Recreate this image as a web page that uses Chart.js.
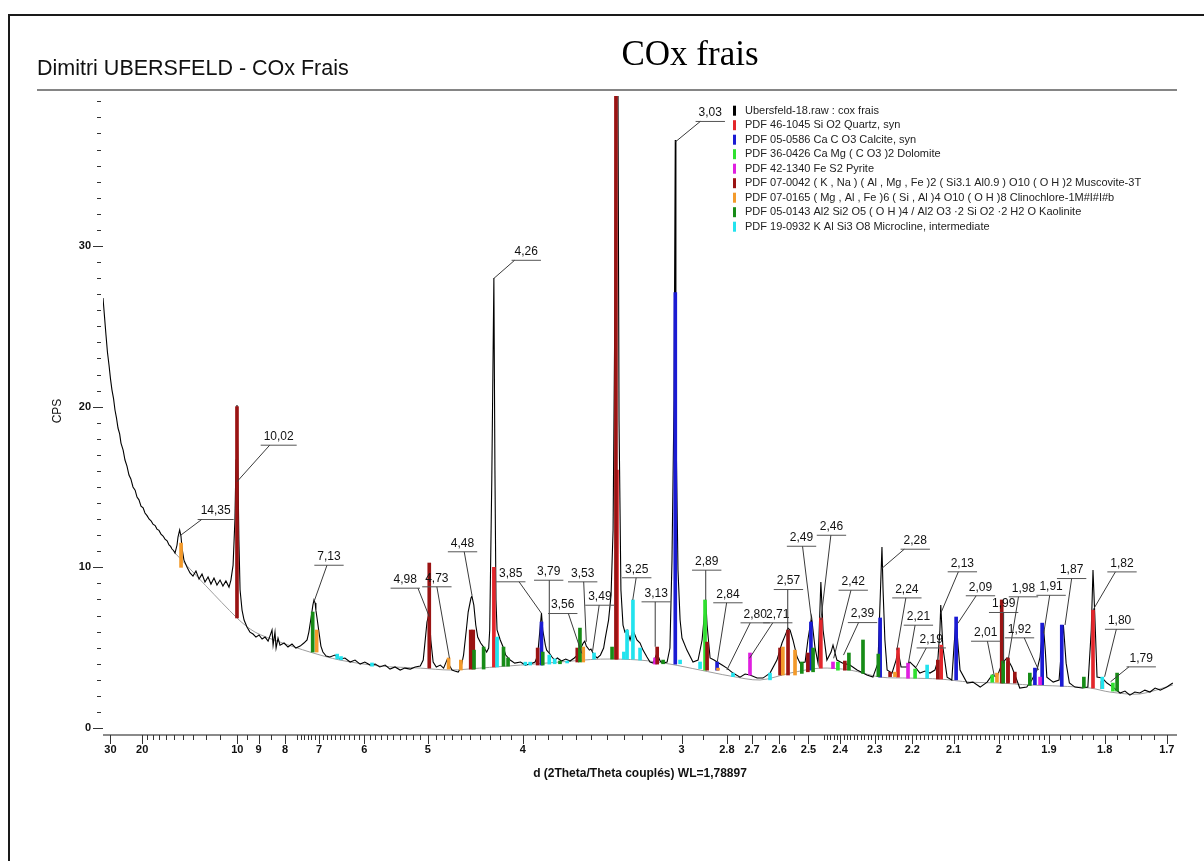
<!DOCTYPE html>
<html>
<head>
<meta charset="utf-8">
<title>COx frais</title>
<script src="https://cdn.jsdelivr.net/npm/chart.js@4.4.1/dist/chart.umd.min.js"></script>
<style>
  body { margin: 0; background: #fff; }
  #wrap { position: relative; width: 1204px; height: 861px; overflow: hidden; background: #fff; }
  #xrd { position: absolute; left: 0; top: 0; }
  #frame { position: absolute; left: 8px; top: 14px; right: -4px; bottom: -4px; border-top: 2px solid #1a1a1a; border-left: 2px solid #1a1a1a; }
  #author { position: absolute; left: 37px; top: 56px; font: 21.5px "Liberation Sans", Arial, sans-serif; color: #111; white-space: nowrap; }
  #title { position: absolute; left: 590px; width: 200px; top: 34px; text-align: center; font: 35px "Liberation Serif", "Times New Roman", serif; color: #000; }
  #rule { position: absolute; left: 37px; top: 89px; width: 1140px; height: 2px; background: #858585; }
  #ytitle { position: absolute; left: 37px; top: 404px; width: 40px; text-align: center; transform: rotate(-90deg); font: 12px "Liberation Sans", Arial, sans-serif; color: #111; }
  #xtitle { position: absolute; left: 440px; width: 400px; top: 766px; text-align: center; font: bold 12px "Liberation Sans", Arial, sans-serif; color: #111; }
</style>
</head>
<body>
<div id="wrap">
  <canvas id="xrd" width="1204" height="861"></canvas>
  <div id="frame"></div>
  <div id="author">Dimitri UBERSFELD - COx Frais</div>
  <div id="title">COx frais</div>
  <div id="rule"></div>
  <div id="ytitle">CPS</div>
  <div id="xtitle">d (2Theta/Theta couplés) WL=1,78897</div>
</div>
<script>
// ── scan : d spacing (Å) and counts ─────────────────────────
const specD = [
  33.99, 33.1, 32.27, 31.5, 30.70, 29.95, 29.29, 28.6, 28.00, 27.4, 26.81, 26.2, 25.73, 25.0, 24.41,
  23.8, 23.22, 22.7, 22.14, 21.6, 21.15, 20.7, 20.25, 19.8, 19.43, 19.0, 18.66, 18.3, 17.96, 17.6,
  17.31, 17.0, 16.70, 16.4, 16.13, 15.85, 15.60, 15.4, 15.23, 15.05, 14.87, 14.64, 14.53, 14.35, 14.21,
  14.10, 13.90, 13.60, 13.31, 13.04, 12.78, 12.52, 12.28, 12.05, 11.82, 11.61, 11.40, 11.20, 11.00,
  10.82, 10.64, 10.46, 10.35, 10.23, 10.13, 10.07, 10.02, 9.97, 9.92, 9.86, 9.76, 9.66, 9.52, 9.38,
  9.24, 9.11, 8.98, 8.85, 8.73, 8.61, 8.54, 8.46, 8.42, 8.35, 8.31, 8.24, 8.17, 8.03, 7.90, 7.77,
  7.65, 7.52, 7.41, 7.32, 7.27, 7.21, 7.16, 7.13, 7.10, 7.08, 7.05, 7.00, 6.95, 6.90, 6.82, 6.73,
  6.61, 6.50, 6.39, 6.28, 6.18, 6.08, 5.99, 5.89, 5.80, 5.72, 5.63, 5.55, 5.47, 5.39, 5.32, 5.24,
  5.17, 5.10, 5.06, 5.04, 5.01, 4.98, 4.96, 4.93, 4.89, 4.84, 4.80, 4.76, 4.74, 4.70, 4.67, 4.63,
  4.60, 4.57, 4.54, 4.52, 4.49, 4.48, 4.46, 4.44, 4.42, 4.39, 4.36, 4.33, 4.31, 4.30, 4.28, 4.26,
  4.25, 4.24, 4.23, 4.20, 4.17, 4.15, 4.11, 4.07, 4.02, 3.98, 3.94, 3.90, 3.88, 3.85, 3.84, 3.82,
  3.81, 3.79, 3.77, 3.75, 3.73, 3.70, 3.67, 3.64, 3.61, 3.59, 3.58, 3.56, 3.55, 3.54, 3.53, 3.51,
  3.50, 3.49, 3.48, 3.46, 3.44, 3.42, 3.41, 3.39, 3.375, 3.363, 3.352, 3.34, 3.328, 3.317, 3.305,
  3.294, 3.282, 3.265, 3.249, 3.227, 3.210, 3.194, 3.173, 3.157, 3.141, 3.121, 3.105, 3.090, 3.070,
  3.056, 3.046, 3.036, 3.03, 3.027, 3.017, 3.007, 2.998, 2.975, 2.947, 2.924, 2.906, 2.89, 2.884,
  2.871, 2.854, 2.841, 2.820, 2.800, 2.775, 2.747, 2.727, 2.708, 2.681, 2.659, 2.633, 2.608, 2.590,
  2.580, 2.569, 2.562, 2.552, 2.538, 2.528, 2.511, 2.502, 2.49, 2.479, 2.469, 2.463, 2.46, 2.453,
  2.441, 2.428, 2.422, 2.410, 2.392, 2.371, 2.350, 2.333, 2.322, 2.305, 2.291, 2.285, 2.28, 2.277,
  2.272, 2.266, 2.253, 2.242, 2.237, 2.229, 2.214, 2.206, 2.198, 2.193, 2.181, 2.168, 2.156, 2.144,
  2.137, 2.132, 2.13, 2.125, 2.115, 2.104, 2.099, 2.094, 2.090, 2.085, 2.069, 2.056, 2.040, 2.025,
  2.014, 2.004, 1.993, 1.983, 1.973, 1.963, 1.957, 1.943, 1.933, 1.923, 1.917, 1.911, 1.907, 1.904,
  1.892, 1.881, 1.873, 1.868, 1.862, 1.852, 1.839, 1.829, 1.823, 1.82, 1.817, 1.813, 1.804, 1.796,
  1.786, 1.774, 1.766, 1.758, 1.750, 1.742, 1.734, 1.726, 1.718, 1.710, 1.700, 1.691
]
const specCps = [
  26.76, 25.6, 24.46, 23.4, 22.59, 21.7, 21.03, 20.5, 19.79, 19.3, 18.67, 18.3, 17.73, 17.3, 16.68,
  16.3, 15.74, 15.5, 15.00, 14.8, 14.37, 14.2, 13.81, 13.7, 13.38, 13.2, 13.01, 12.9, 12.69, 12.6,
  12.38, 12.3, 12.07, 11.95, 11.76, 11.65, 11.39, 11.3, 11.14, 11.05, 10.89, 11.39, 11.89, 12.32, 11.95,
  11.20, 10.45, 10.02, 9.65, 9.46, 9.77, 9.27, 9.58, 9.09, 9.40, 8.96, 9.33, 8.90, 9.21,
  8.84, 9.15, 8.77, 9.21, 10.14, 12.94, 16.68, 20.10, 16.05, 11.70, 8.59, 7.34, 6.72, 6.29, 5.97,
  5.85, 5.66, 5.79, 5.54, 5.66, 5.41, 5.72, 6.10, 5.16, 5.97, 4.98, 5.60, 5.16, 5.29, 5.04, 5.23,
  4.98, 5.10, 5.29, 5.48, 5.97, 6.85, 7.65, 7.97, 7.78, 7.34, 6.85, 5.97, 5.10, 4.73, 4.48, 4.42,
  4.54, 4.29, 4.36, 4.11, 4.23, 3.98, 4.11, 3.92, 3.98, 3.80, 3.92, 3.67, 3.80, 3.61, 3.73, 3.67,
  3.80, 3.86, 4.23, 5.16, 6.60, 7.16, 5.48, 4.11, 3.80, 3.92, 3.73, 4.23, 3.98, 3.61, 3.55, 3.48,
  3.73, 4.54, 6.10, 7.22, 8.09, 8.21, 7.65, 6.41, 5.66, 5.29, 5.04, 4.73, 4.98, 6.10, 15.43, 28.0,
  16.05, 7.97, 6.10, 5.48, 4.98, 4.54, 4.23, 4.04, 4.11, 3.92, 3.98, 4.11, 4.54, 7.16, 6.10, 5.16,
  4.85, 4.67, 4.42, 4.23, 4.36, 4.17, 4.29, 4.17, 4.36, 4.54, 4.85, 5.10, 5.29, 5.41, 5.10, 4.85,
  4.92, 4.73, 4.54, 4.36, 4.54, 4.98, 5.60, 6.72, 8.28, 12.32, 26.6, 60, 19.17, 8.59, 6.41,
  5.97, 6.10, 5.48, 6.10, 5.48, 5.29, 4.85, 4.42, 4.11, 4.04, 4.67, 4.17, 4.04, 4.11,
  4.98, 10.45, 20.41, 36.59, 19.17, 9.83, 6.72, 5.60, 4.85, 4.11, 4.23, 5.48, 7.97, 6.41,
  4.36, 4.23, 4.11, 3.92, 3.73, 3.42, 3.17, 3.36, 3.30, 3.11, 3.11, 3.42, 4.23, 5.29,
  5.72, 6.22, 6.10, 5.48, 4.42, 4.04, 4.11, 5.48, 6.91, 5.04, 4.04, 7.34, 9.09, 6.10,
  4.23, 4.73, 5.16, 4.23, 4.04, 3.92, 3.61, 3.42, 3.30, 3.17, 4.04, 7.97, 11.26, 8.59,
  5.48, 3.61, 3.42, 4.23, 4.85, 3.80, 3.80, 4.11, 3.92, 3.80, 3.42, 3.55, 3.42, 3.61,
  4.23, 6.10, 7.65, 5.04, 3.17, 2.99, 5.04, 6.85, 5.29, 3.61, 2.80, 2.86, 2.55, 2.86,
  3.30, 3.17, 4.04, 4.36, 3.80, 2.99, 2.49, 2.55, 2.99, 3.61, 4.42, 6.53, 4.85, 3.17,
  2.86, 2.99, 6.41, 4.04, 2.80, 2.55, 2.49, 2.55, 6.10, 9.83, 7.16, 3.17, 3.11, 2.80,
  2.55, 2.18, 2.30, 2.05, 2.24, 2.18, 2.36, 2.24, 2.49, 2.36, 2.55, 2.80
]

// background under the scan
const baseD   = [14.87, 10.02, 9.15, 8.17, 7.24, 6.50, 5.72, 5.10, 4.72, 4.40, 4.02, 3.71, 3.44, 3.21, 3.056,
                 2.915, 2.787, 2.670, 2.562, 2.463, 2.371, 2.285, 2.206, 2.132, 2.063, 1.998, 1.937, 1.879,
                 1.825, 1.791, 1.742, 1.691]
const baseCps = [10.89, 6.85, 5.97, 5.35, 4.73, 4.23, 3.86, 3.73, 3.61, 3.73, 3.92, 4.11, 4.29, 4.23, 3.98,
                 3.61, 3.24, 2.99, 3.42, 3.73, 3.61, 3.17, 3.11, 3.05, 2.86, 2.80, 2.68, 2.61,
                 2.49, 2.24, 2.12, 2.68]

// reference lines per phase : [d, from, to]
const quartz = [[4.26, 3.80, 10.0], [3.34, 4.29, 16.05], [2.46, 3.73, 6.85], [2.237, 3.17, 4.98],
  [2.129, 3.05, 5.16], [1.981, 2.86, 4.11], [1.82, 2.49, 7.34], [1.804, 2.45, 2.9]]
const calcite = [[3.85, 3.92, 6.60], [3.03, 3.98, 27.1], [2.841, 3.6, 4.11], [2.492, 3.6, 6.60],
  [2.285, 3.17, 6.85], [2.094, 3.0, 6.91], [1.927, 2.7, 3.73], [1.913, 2.7, 6.53], [1.876, 2.6, 6.41]]
const dolomite = [[2.893, 3.6, 7.97], [2.407, 3.6, 4.1], [2.193, 3.1, 3.67], [2.014, 2.85, 3.30],
  [1.786, 2.3, 2.8]]
const pyrite = [[3.131, 3.98, 4.36], [2.708, 3.3, 4.67], [2.422, 3.7, 4.11], [2.211, 3.1, 4.04],
  [1.917, 2.7, 3.17]]
const muscovite = [[10.02, 6.85, 20.0], [4.98, 3.73, 10.27], [4.493, 3.67, 6.10], [4.466, 3.67, 6.10],
  [3.88, 3.92, 4.98], [3.59, 4.11, 4.98], [3.346, 4.29, 60], [3.12, 3.98, 5.04], [2.884, 3.6, 5.35],
  [2.597, 3.3, 4.98], [2.569, 3.3, 6.10], [2.502, 3.5, 4.67], [2.386, 3.6, 4.17], [2.258, 3.2, 3.48],
  [2.137, 3.05, 4.23], [1.994, 2.8, 7.97], [1.981, 2.8, 4.36], [1.967, 2.8, 3.48]]
const clinochlore = [[14.2, 10.0, 11.51], [7.06, 4.73, 6.10], [4.74, 3.67, 4.36], [4.60, 3.61, 4.23],
  [3.55, 4.11, 5.04], [2.837, 3.6, 3.73], [2.587, 3.3, 5.04], [2.545, 3.3, 4.85], [2.245, 3.2, 3.48],
  [2.004, 2.85, 3.42]]
const kaolinite = [[7.165, 4.73, 7.22], [4.458, 3.67, 4.85], [4.36, 3.67, 5.04], [4.17, 3.85, 5.04],
  [4.129, 3.85, 4.36], [3.84, 3.92, 4.73], [3.711, 4.0, 4.17], [3.572, 4.11, 6.22], [3.369, 4.29, 5.04],
  [3.09, 4.0, 4.23], [2.522, 3.4, 4.11], [2.485, 3.5, 4.98], [2.374, 3.6, 4.67], [2.333, 3.4, 5.48],
  [2.29, 3.2, 4.60], [1.991, 2.8, 4.17], [1.937, 2.65, 3.42], [1.836, 2.5, 3.17], [1.779, 2.3, 3.42]]
const microcline = [[6.56, 4.3, 4.6], [6.475, 4.25, 4.45], [5.857, 3.85, 4.05], [4.23, 3.8, 5.66],
  [3.98, 3.92, 4.1], [3.94, 3.92, 4.1], [3.79, 3.98, 4.54], [3.75, 4.0, 4.3], [3.66, 4.05, 4.17],
  [3.48, 4.29, 4.67], [3.30, 4.29, 4.73], [3.282, 4.29, 6.10], [3.249, 4.29, 7.97], [3.21, 4.23, 4.98],
  [3.007, 4.0, 4.23], [2.915, 3.7, 4.11], [2.775, 3.2, 3.42], [2.633, 3.0, 3.42], [2.163, 3.1, 3.92],
  [1.804, 2.45, 3.17]]

// labelled peaks (d) and the count where each leader ends
const peakD = [14.35, 10.02, 7.13, 4.98, 4.73, 4.48, 4.26, 3.85, 3.79, 3.56, 3.53, 3.49, 3.25, 3.13,
  3.03, 2.89, 2.84, 2.80, 2.71, 2.57, 2.49, 2.46, 2.42, 2.39, 2.28, 2.24, 2.21, 2.19, 2.13, 2.09,
  2.01, 1.99, 1.98, 1.92, 1.91, 1.87, 1.82, 1.80, 1.79]
const peakFoot = [11.95, 15.33, 7.86, 6.93, 4.34, 8.28, 27.98, 7.14, 4.65, 4.65, 5.37, 4.75, 7.97, 5.06,
  36.47, 7.97, 4.13, 3.61, 4.34, 6.1, 6.72, 6.72, 4.34, 4.54, 9.94, 4.85, 4.03, 3.81, 7.14, 6.52,
  3.3, 4.03, 4.34, 3.61, 5.89, 6.41, 7.34, 3.19, 2.88]

const xTickMajor = [30, 20, 10, 9, 8, 7, 6, 5, 4, 3, 2.8, 2.7, 2.6, 2.5, 2.4, 2.3, 2.2, 2.1, 2, 1.9, 1.8, 1.7]
const dLimits = [33.99, 1.6847]
const yLimits = [-0.37, 39.33]

const scanName = 'Ubersfeld-18.raw : cox frais'
const phases = [
  { name: 'PDF 46-1045 Si O2 Quartz, syn', color: '#e3262b', sticks: quartz },
  { name: 'PDF 05-0586 Ca C O3 Calcite, syn', color: '#1b1bd3', sticks: calcite },
  { name: 'PDF 36-0426 Ca Mg ( C O3 )2 Dolomite', color: '#2fe02f', sticks: dolomite },
  { name: 'PDF 42-1340 Fe S2 Pyrite', color: '#e01fe0', sticks: pyrite },
  { name: 'PDF 07-0042 ( K , Na ) ( Al , Mg , Fe )2 ( Si3.1 Al0.9 ) O10 ( O H )2 Muscovite-3T', color: '#9a1313', sticks: muscovite },
  { name: 'PDF 07-0165 ( Mg , Al , Fe )6 ( Si , Al )4 O10 ( O H )8 Clinochlore-1M#I#I#b', color: '#f39a2b', sticks: clinochlore },
  { name: 'PDF 05-0143 Al2 Si2 O5 ( O H )4 / Al2 O3 \u00b72 Si O2 \u00b72 H2 O Kaolinite', color: '#178c17', sticks: kaolinite },
  { name: 'PDF 19-0932 K Al Si3 O8 Microcline, intermediate', color: '#22e3ee', sticks: microcline }
]

// ── layout for the peak tags : text offset from the peak (px) and leader end on the underline ──
const tagLayout = [
  [36, -25, -14], [41.7, -45, -9], [15, -45, -2], [-24, -37, 12.7], [-12.6, -80, 0], [-9.4, -51.7, 1.7],
  [32.4, -26.6, -11.7], [-30.7, -40, 8.3], [-0.6, -81.6, 0.6], [-19, -48.3, 5.6], [-3.6, -68.4, 1],
  [7.4, -55, -0.7], [4, -30.7, -0.6], [1, -53.4, -1], [35, -29, -10], [1, -38.3, -1], [10.6, -67.4, -1.3],
  [28.3, -55.7, -5], [28.3, -44, -5], [0.7, -49, -0.7], [-10, -82.3, 1], [10.6, -93.3, -0.6],
  [19.6, -76.6, -2.3], [19, -41, -4], [33.3, -27.6, -11], [10, -60.7, -1], [10, -46.6, -3.3],
  [15, -27.4, -5], [21.6, -50, -4], [22.6, -36, -4.3], [-8.4, -42.3, 1.7], [0, -59.3, 0],
  [15, -70, -5], [-19, -40.7, 4.7], [7.4, -46.6, -1.4], [6.6, -55, 0], [29, -46.7, -6.6],
  [15, -56, -3.3], [30.7, -23.4, -12.3]
]

const SANS = '"Liberation Sans", Arial, sans-serif'

// minor d ticks, built in hundredths to stay clear of float noise
function minorTicks() {
  const out = []
  const add = (from, to, step) => { for (let v = from; v >= to; v -= step) out.push(v / 100) }
  add(1900, 1100, 100)
  out.push(9.5, 8.5)
  add(760, 710, 10)
  add(690, 610, 10)
  add(590, 510, 10)
  add(490, 410, 10)
  add(390, 310, 10)
  out.push(2.9, 2.75, 2.65, 2.55)
  for (let v = 245; v > 190; v--) if (v % 10 !== 0) out.push(v / 100)
  add(188, 182, 2)
  add(178, 172, 2)
  return out
}

const xyPoints = (ds, vs) => ds.map((d, i) => ({ x: 1 / d, y: vs[i] }))
const stickBars = s => s.map(([d, lo, hi]) => ({ x: 1 / d, y: [lo, hi] }))

const frame = {
  id: 'xrdFrame',
  afterDatasetsDraw(chart) {
    const { ctx, chartArea: a, scales: { x, y } } = chart
    ctx.save()

    // x axis
    ctx.strokeStyle = '#8a8a8a'
    ctx.lineWidth = 2
    ctx.beginPath()
    ctx.moveTo(a.left, a.bottom + 1)
    ctx.lineTo(a.right, a.bottom + 1)
    ctx.stroke()

    ctx.strokeStyle = '#333'
    ctx.lineWidth = 1
    ctx.beginPath()
    minorTicks().forEach(d => {
      const px = Math.round(x.getPixelForValue(1 / d)) + 0.5
      ctx.moveTo(px, a.bottom + 1)
      ctx.lineTo(px, a.bottom + 6)
    })
    xTickMajor.forEach(d => {
      const px = Math.round(x.getPixelForValue(1 / d)) + 0.5
      ctx.moveTo(px, a.bottom + 1)
      ctx.lineTo(px, a.bottom + 10)
    })
    ctx.stroke()

    ctx.fillStyle = '#111'
    ctx.font = 'bold 11px ' + SANS
    ctx.textAlign = 'center'
    ctx.textBaseline = 'middle'
    xTickMajor.forEach(d => ctx.fillText(String(d), x.getPixelForValue(1 / d), a.bottom + 16))

    // y ticks
    ctx.beginPath()
    for (let v = 0; v <= 39; v++) {
      const py = Math.round(y.getPixelForValue(v)) + 0.5
      if (v % 10 === 0) {
        ctx.moveTo(a.left - 10, py)
        ctx.lineTo(a.left, py)
      } else {
        ctx.moveTo(a.left - 6, py)
        ctx.lineTo(a.left - 2, py)
      }
    }
    ctx.stroke()
    ctx.textAlign = 'right'
    for (let v = 0; v <= 30; v += 10) ctx.fillText(String(v), a.left - 12, y.getPixelForValue(v))

    // peak tags
    ctx.font = '12px ' + SANS
    ctx.textAlign = 'center'
    peakD.forEach((d, i) => {
      const [dx, dy, ex] = tagLayout[i]
      const px = x.getPixelForValue(1 / d)
      const py = y.getPixelForValue(peakFoot[i])
      const tx = px + dx
      const ty = py + dy
      const text = d.toFixed(2).replace('.', ',')
      const w = ctx.measureText(text).width
      ctx.fillStyle = '#111'
      ctx.fillText(text, tx, ty)
      ctx.strokeStyle = '#555'
      ctx.lineWidth = 1
      ctx.beginPath()
      ctx.moveTo(tx - w / 2 - 3, ty + 8.5)
      ctx.lineTo(tx + w / 2 + 3, ty + 8.5)
      ctx.stroke()
      ctx.strokeStyle = '#3a3a3a'
      ctx.beginPath()
      ctx.moveTo(tx + ex, ty + 8.5)
      ctx.lineTo(px, py)
      ctx.stroke()
    })

    // legend
    ctx.font = '11px ' + SANS
    ctx.textAlign = 'left'
    chart.data.datasets.filter(ds => ds.inLegend).forEach((ds, i) => {
      const ry = a.top + 14.7 + i * 14.5
      ctx.fillStyle = ds.type === 'line' ? ds.borderColor : ds.backgroundColor
      ctx.fillRect(a.left + 630, ry - 5, 3, 10)
      ctx.fillStyle = '#222'
      ctx.fillText(ds.label, a.left + 642, ry)
    })
    ctx.restore()
  }
}

new Chart(document.getElementById('xrd'), {
  type: 'bar',
  data: {
    datasets: [
      { type: 'line', label: scanName, inLegend: true, data: xyPoints(specD, specCps),
        borderColor: '#000', borderWidth: 1.1, pointRadius: 0, tension: 0, order: 20 },
      { type: 'line', label: 'fond', inLegend: false, data: xyPoints(baseD, baseCps),
        borderColor: '#9d9d9d', borderWidth: 1, pointRadius: 0, tension: 0.3, order: 21 },
      ...phases.map((p, i) => ({
        type: 'bar', label: p.name, inLegend: true, data: stickBars(p.sticks),
        backgroundColor: p.color, borderWidth: 0, barThickness: 3, grouped: false, order: 10 - i
      }))
    ]
  },
  options: {
    responsive: false,
    animation: false,
    events: [],
    layout: { padding: { left: 103, right: 27, top: 96, bottom: 127 } },
    scales: {
      x: { type: 'linear', display: false, offset: false, min: 1 / dLimits[0], max: 1 / dLimits[1] },
      y: { display: false, min: yLimits[0], max: yLimits[1] }
    },
    plugins: { legend: { display: false }, tooltip: { enabled: false } }
  },
  plugins: [frame]
})
</script>
</body>
</html>
